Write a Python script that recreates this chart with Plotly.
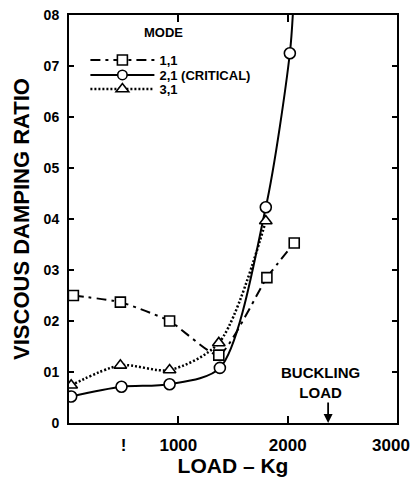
import plotly.graph_objects as go

# ---- data ----
mode11_load = [40, 470, 920, 1370, 1810, 2060]
mode11_ratio = [0.0250, 0.0237, 0.0200, 0.0133, 0.0285, 0.0353]

mode21_load = [20, 480, 920, 1380, 1800, 2020, 2052]
mode21_ratio = [0.0052, 0.0071, 0.0076, 0.0108, 0.0423, 0.0725, 0.0820]
mode21_measured = [True, True, True, True, True, True, False]  # last = curve continuation

mode31_load = [20, 470, 920, 1370, 1800]
mode31_ratio = [0.0074, 0.0113, 0.0104, 0.0157, 0.0396]

buckling_load = 2370

y_tickvals = [0, 0.01, 0.02, 0.03, 0.04, 0.05, 0.06, 0.07, 0.08]
y_ticktext = ["0", "01", "02", "03", "04", "05", "06", "07", "08"]
x_ticktext = ["!", "1000", "2000", "3000"]
x_tickvals = [500, 1000, 2000, 2945]   # the "3000" label sits just left of the frame corner
x_tickmarks = [1000, 2000]

FONT = "Liberation Sans, Arial, sans-serif"
BLACK = "black"

marker_common = dict(color="white", opacity=1, line=dict(color=BLACK, width=1.6))

fig = go.Figure()

fig.add_trace(go.Scatter(
    x=mode11_load, y=mode11_ratio, name="1,1", mode="lines+markers", legend="legend",
    line=dict(color=BLACK, width=2, dash="10px,5px,3px,5px", shape="spline", smoothing=0.5),
    marker=dict(symbol="square", size=10, **marker_common),
))

fig.add_trace(go.Scatter(
    x=mode21_load, y=mode21_ratio, name="2,1 (CRITICAL)", mode="lines+markers", legend="legend2",
    line=dict(color=BLACK, width=2, shape="spline", smoothing=0.8),
    marker=dict(symbol="circle", size=[11 if m else 0 for m in mode21_measured], **marker_common),
))

fig.add_trace(go.Scatter(
    x=mode31_load, y=mode31_ratio, name="3,1", mode="lines+markers", legend="legend3",
    line=dict(color=BLACK, width=2.5, dash="2px,2px", shape="spline", smoothing=0.8),
    marker=dict(symbol="triangle-up", size=11, **marker_common),
))

# empty trace on an overlaid axis that carries only the 1000/2000 tick marks
fig.add_trace(go.Scatter(x=[], y=[], xaxis="x2", showlegend=False, hoverinfo="skip"))

# buckling load arrow and label
fig.add_annotation(
    x=buckling_load, y=0, xref="x", yref="y", text="", showarrow=True,
    ax=0, ay=-22, arrowhead=2, arrowsize=1, arrowwidth=1.8, arrowcolor=BLACK, standoff=0,
)
fig.add_annotation(
    x=buckling_load, y=0, xref="x", yref="y", text="BUCKLING<br>LOAD", showarrow=False,
    xshift=-8, yshift=20, yanchor="bottom",
    font=dict(family=FONT, size=15, color=BLACK, weight="bold"),
)
# legend heading
fig.add_annotation(
    x=0.288, y=0.956, xref="paper", yref="paper", text="MODE", showarrow=False,
    xanchor="center", yanchor="middle",
    font=dict(family=FONT, size=13, color=BLACK, weight="bold"),
)

legend_common = dict(
    x=0.05, xanchor="left", yanchor="middle", bgcolor="rgba(0,0,0,0)",
    font=dict(family=FONT, size=13, weight="bold", color=BLACK), itemwidth=64,
)

fig.update_layout(
    width=414, height=477,
    margin=dict(l=69, r=17, t=15, b=54, autoexpand=False),
    paper_bgcolor="white", plot_bgcolor="white",
    font=dict(family=FONT, color=BLACK, weight="bold"),
    showlegend=True,
    legend=dict(y=0.8897, **legend_common),
    legend2=dict(y=0.8529, **legend_common),
    legend3=dict(y=0.8186, **legend_common),
    xaxis2=dict(
        overlaying="x", matches="x", range=[0, 3000], showgrid=False, zeroline=False,
        showline=True, linecolor=BLACK, linewidth=2, mirror="ticks",
        tickmode="array", tickvals=x_tickmarks, ticks="inside", ticklen=7,
        tickwidth=2, tickcolor=BLACK, showticklabels=False, automargin=False,
    ),
)

fig.layout.xaxis.update(
    range=[0, 3000], showgrid=False, zeroline=False, automargin=False,
    showline=True, linecolor=BLACK, linewidth=2, mirror=True,
    tickmode="array", tickvals=x_tickvals, ticktext=x_ticktext, ticks="",
    tickfont=dict(family=FONT, size=17, weight="bold"),
    ticklabelstandoff=6, ticklabeloverflow="allow",
    title=dict(text="LOAD – Kg", font=dict(family=FONT, size=21, weight="bold"), standoff=8),
)

fig.update_yaxes(
    range=[0, 0.08], showgrid=False, zeroline=False, automargin=False,
    showline=True, linecolor=BLACK, linewidth=2, mirror="ticks",
    tickmode="array", tickvals=y_tickvals, ticktext=y_ticktext,
    ticks="inside", ticklen=5, tickwidth=1.5, tickcolor=BLACK,
    tickfont=dict(family=FONT, size=14, weight="bold"),
    ticklabelstandoff=5,
    title=dict(text="VISCOUS DAMPING RATIO", font=dict(family=FONT, size=22, weight="bold"), standoff=8),
)

fig.write_html("out.html", config={"displayModeBar": False},
               post_script="document.body.style.margin='0';")
